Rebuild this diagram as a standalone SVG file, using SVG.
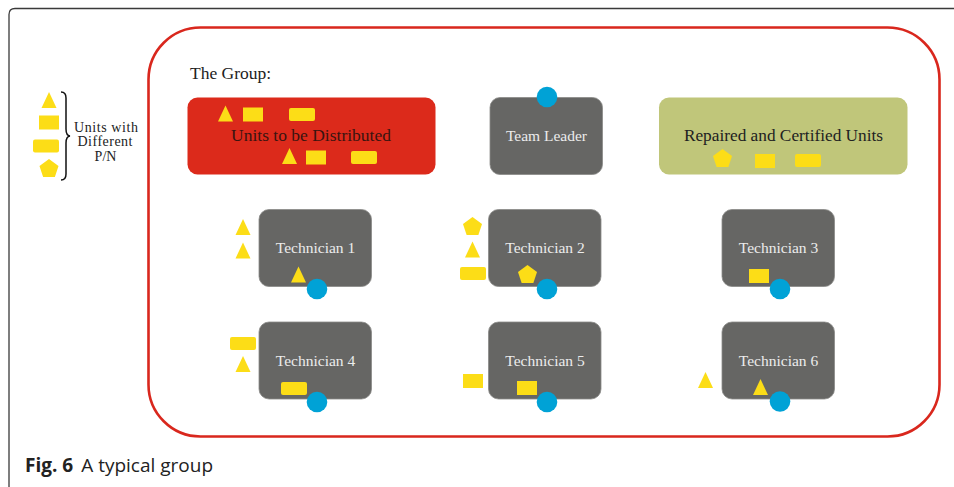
<svg xmlns="http://www.w3.org/2000/svg" xmlns:xlink="http://www.w3.org/1999/xlink" width="954" height="487" viewBox="0 0 954 487">
<style>
.serif{font-family:"Liberation Serif","Times New Roman",serif;}
.gbox{fill:#666664;stroke:#8a8a88;stroke-width:0.8;}
.lt{fill:#ececec;font-size:15.5px;text-anchor:middle;}
.dk{fill:#222;text-anchor:middle;}
.y{fill:#fcdd17;}
.dot{fill:#00a2d6;}
.leg{font-size:14px;fill:#222;text-anchor:middle;}
</style>
<defs>
<path id="tri" class="y" d="M0,-8 L7.5,8 L-7.5,8Z"/>
<path id="pent" class="y" d="M0,-10 L9.51,-3.09 L5.88,8.09 L-5.88,8.09 L-9.51,-3.09Z"/>
<rect id="sq" class="y" x="-10" y="-7" width="20" height="14"/>
<rect id="rr" class="y" x="-13" y="-6.5" width="26" height="13" rx="2"/>
</defs>
<rect width="954" height="487" fill="#fff"/>
<path d="M954,8.5 L15,8.5 Q9,8.5 9,14.5 L9,487" fill="none" stroke="#3a3a3a" stroke-width="1.3"/>
<rect x="148.5" y="27.5" width="791" height="409" rx="52" ry="52" fill="none" stroke="#d9271d" stroke-width="2.6"/>

<g id="legend">
<use href="#tri" x="49" y="100"/>
<use href="#sq" x="49" y="122.5"/>
<use href="#rr" x="46" y="146"/>
<use href="#pent" x="49" y="169"/>
<path d="M61,92 Q66,92 66,98 L66,129 Q66,135.5 70,136 Q66,136.5 66,143 L66,174 Q66,180 61,180" fill="none" stroke="#111" stroke-width="1.5"/>
<text class="serif leg" x="106" y="131.5" textLength="64">Units with</text>
<text class="serif leg" x="105" y="146" textLength="55">Different</text>
<text class="serif leg" x="105.5" y="160.5">P/N</text>
</g>

<text class="serif" x="190" y="79" font-size="17.5" fill="#222">The Group:</text>

<g id="units">
<rect x="187.5" y="97.5" width="248" height="77" rx="10" fill="#dc2a1b"/>
<text class="serif" x="311" y="141" font-size="17.5" fill="#3a1410" text-anchor="middle">Units to be Distributed</text>
<use href="#tri" x="225.5" y="113.5"/>
<use href="#sq" x="253" y="114.5"/>
<use href="#rr" x="302" y="114.5"/>
<use href="#tri" x="289.5" y="156"/>
<use href="#sq" x="316" y="157.5"/>
<use href="#rr" x="364" y="157.5"/>
</g>

<g id="leader">
<rect class="gbox" x="490" y="97.5" width="112.5" height="77" rx="10"/>
<text class="serif lt" x="546.5" y="141" font-size="16.5">Team Leader</text>
<circle class="dot" cx="547" cy="97" r="10.3"/>
</g>

<g id="repaired">
<rect x="659" y="97.5" width="248.5" height="77" rx="10" fill="#c0c67a"/>
<text class="serif dk" x="783.5" y="141" font-size="17.3">Repaired and Certified Units</text>
<use href="#pent" x="722.5" y="159"/>
<use href="#sq" x="765" y="161"/>
<use href="#rr" x="808" y="160.5"/>
</g>

<g id="tech1">
<rect class="gbox" x="259" y="209.5" width="112.5" height="77" rx="10"/>
<text class="serif lt" x="315.5" y="253">Technician 1</text>
<use href="#tri" x="298.5" y="274.5"/>
<circle class="dot" cx="317" cy="289" r="10.3"/>
<use href="#tri" x="243" y="227"/>
<use href="#tri" x="243" y="250.5"/>
</g>

<g id="tech2">
<rect class="gbox" x="488.5" y="209.5" width="112.5" height="77" rx="10"/>
<text class="serif lt" x="545" y="253">Technician 2</text>
<use href="#pent" x="527.5" y="275"/>
<circle class="dot" cx="547" cy="289" r="10.3"/>
<use href="#pent" x="472.5" y="227"/>
<use href="#tri" x="472.5" y="249.5"/>
<use href="#rr" x="473" y="273.5"/>
</g>

<g id="tech3">
<rect class="gbox" x="722" y="209.5" width="112.5" height="77" rx="10"/>
<text class="serif lt" x="778.5" y="253">Technician 3</text>
<use href="#sq" x="759" y="276"/>
<circle class="dot" cx="780" cy="289" r="10.3"/>
</g>

<g id="tech4">
<rect class="gbox" x="259" y="322" width="112.5" height="77" rx="10"/>
<text class="serif lt" x="315.5" y="365.5">Technician 4</text>
<use href="#rr" x="294" y="388.5"/>
<circle class="dot" cx="317" cy="402" r="10.3"/>
<use href="#rr" x="243" y="343.5"/>
<use href="#tri" x="243" y="364"/>
</g>

<g id="tech5">
<rect class="gbox" x="488.5" y="322" width="112.5" height="77" rx="10"/>
<text class="serif lt" x="545" y="365.5">Technician 5</text>
<use href="#sq" x="527" y="388"/>
<circle class="dot" cx="547" cy="402" r="10.3"/>
<use href="#sq" x="473" y="381"/>
</g>

<g id="tech6">
<rect class="gbox" x="722" y="322" width="112.5" height="77" rx="10"/>
<text class="serif lt" x="778.5" y="365.5">Technician 6</text>
<use href="#tri" x="760.5" y="387"/>
<circle class="dot" cx="780" cy="401.5" r="10.3"/>
<use href="#tri" x="705.5" y="380"/>
</g>

<g id="connectors"></g>

<text x="25" y="472" font-family="'Open Sans','Noto Sans',sans-serif" font-size="19" fill="#222"><tspan font-weight="bold">Fig. 6</tspan><tspan dx="8">A typical group</tspan></text>
</svg>
